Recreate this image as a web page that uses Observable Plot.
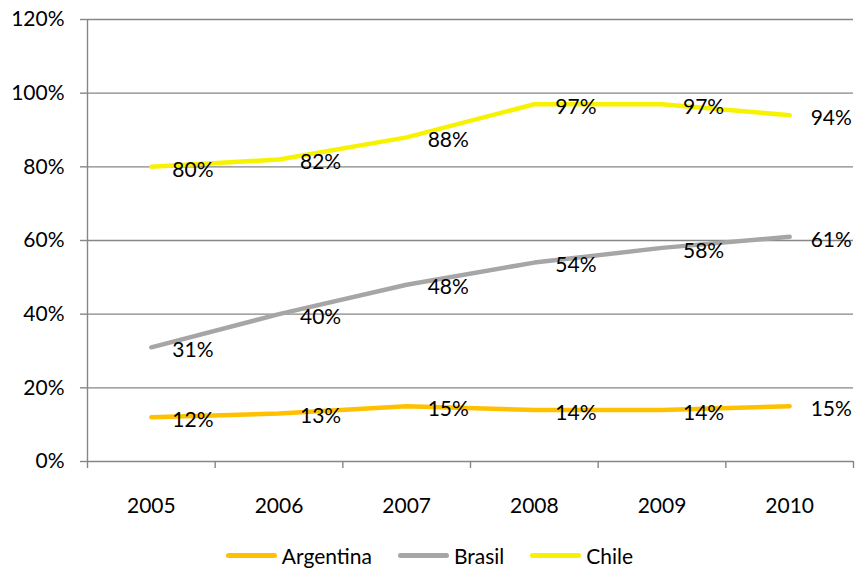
<!DOCTYPE html>
<html>
<head>
<meta charset="utf-8">
<script src="https://cdn.jsdelivr.net/npm/d3@7"></script>
<script src="https://cdn.jsdelivr.net/npm/@observablehq/plot@0.6"></script>
<style>
  html, body { margin: 0; padding: 0; background: #fff; }
  body { width: 859px; height: 581px; overflow: hidden; font-family: Lato, "Open Sans", sans-serif; color: #000; }
  #legend { display: flex; justify-content: center; align-items: center; height: 51px; font-size: 21px; }
  .item { display: flex; align-items: center; margin-right: 26px; }
  .item:last-child { margin-right: 0; }
  .swatch { width: 51px; height: 5px; border-radius: 3px; margin-right: 5px; }
</style>
</head>
<body>
<div id="chart"></div>
<div id="legend"></div>
<script>
// Years on the category axis
const years = [2005, 2006, 2007, 2008, 2009, 2010];

// Share per country, in percent
const argentina = [12, 13, 15, 14, 14, 15];
const brasil = [31, 40, 48, 54, 58, 61];
const chile = [80, 82, 88, 97, 97, 94];

const seriesNames = ["Argentina", "Brasil", "Chile"];
const seriesColors = ["#FFC000", "#A6A6A6", "#F7F200"];
const yTicks = [0, 20, 40, 60, 80, 100, 120];

// Long table for the marks
const rows = [];
[argentina, brasil, chile].forEach((vals, s) => {
  vals.forEach((v, i) => rows.push({country: seriesNames[s], year: years[i], value: v}));
});

// Category boundaries (tick marks sit between the years)
const bounds = d3.range(years.length + 1).map(i => years[0] - 0.5 + i);

const gridColor = "#868686";

const chart = Plot.plot({
  width: 859,
  height: 530,
  marginLeft: 87,
  marginRight: 6,
  marginTop: 19,
  marginBottom: 69,
  style: {fontFamily: "Lato, 'Open Sans', sans-serif", fontSize: "21px", color: "#000", background: "#fff"},
  x: {type: "linear", domain: [bounds[0], bounds[bounds.length - 1]]},
  y: {domain: [0, 120]},
  color: {domain: seriesNames, range: seriesColors},
  marks: [
    Plot.gridY(yTicks.slice(1), {stroke: gridColor, strokeOpacity: 1, strokeWidth: 1.4}),
    Plot.ruleY([0], {stroke: gridColor, strokeWidth: 1.4}),
    Plot.ruleX([bounds[0]], {stroke: gridColor, strokeWidth: 1.4}),
    Plot.axisY({ticks: yTicks, tickFormat: d => d + "%", tickSize: 7, tickPadding: 16, stroke: gridColor, strokeOpacity: 1, strokeWidth: 1.4, label: null}),
    Plot.axisX({ticks: bounds, tickFormat: () => "", tickSize: 7, stroke: gridColor, strokeOpacity: 1, strokeWidth: 1.4, label: null}),
    Plot.axisX({ticks: years, tickFormat: d => String(d), tickSize: 0, tickPadding: 37, label: null}),
    Plot.line(rows, {x: "year", y: "value", z: "country", stroke: "country", strokeWidth: 4.5, strokeLinecap: "round", strokeLinejoin: "round", curve: "linear"}),
    Plot.text(rows, {x: "year", y: "value", text: d => d.value + "%", textAnchor: "start", dx: 21, dy: 3, fill: "#000"})
  ]
});
document.getElementById("chart").appendChild(chart);

// Legend below the chart
const legend = document.getElementById("legend");
seriesNames.forEach((name, i) => {
  const item = document.createElement("div");
  item.className = "item";
  const sw = document.createElement("span");
  sw.className = "swatch";
  sw.style.background = seriesColors[i];
  const label = document.createElement("span");
  label.textContent = name;
  item.appendChild(sw);
  item.appendChild(label);
  legend.appendChild(item);
});
</script>
</body>
</html>
